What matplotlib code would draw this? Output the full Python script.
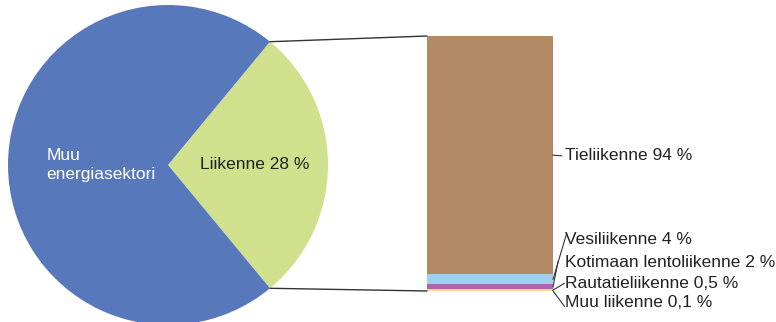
import matplotlib.pyplot as plt
from matplotlib.patches import ConnectionPatch
import numpy as np

plt.rcParams['font.family'] = ['DejaVu Sans Condensed', 'Liberation Sans Narrow', 'Liberation Sans']

# Pie data
pie_labels = ['Liikenne 28 %', 'Muu\nenergiasektori']
pie_values = [28, 72]
pie_colors = ['#D1E08C', '#5878BC']

# Breakdown of transport (bottom to top)
bar_labels = ['Muu liikenne 0,1 %', 'Rautatieliikenne 0,5 %', 'Kotimaan lentoliikenne 2 %',
              'Vesiliikenne 4 %', 'Tieliikenne 94 %']
bar_values = [0.1, 0.5, 2, 4, 94]
bar_colors = ['#E05050', '#F3D58A', '#B065AA', '#9DD0EC', '#B28A66']

fig = plt.figure(figsize=(7.76, 3.22), dpi=100)

# pie axes (center 168,165 px, radius 160)
r_px = 160
ax_pie = fig.add_axes([(168 - r_px) / 776, (157 - r_px) / 322, 2 * r_px / 776, 2 * r_px / 322])
half = pie_values[0] / 100 * 180
wedges, _ = ax_pie.pie(pie_values, colors=pie_colors, startangle=-half, radius=1,
                       wedgeprops=dict(linewidth=0))
ax_pie.set_xlim(-1, 1)
ax_pie.set_ylim(-1, 1)
ax_pie.set_aspect('equal')
ax_pie.axis('off')
ax_pie.text(0.2, 0.0, pie_labels[0], fontsize=12.5, color='#222222', ha='left', va='center')
ax_pie.text(-0.76, 0.0, pie_labels[1], fontsize=12.5, color='white', ha='left', va='center',
            linespacing=1.35)

# bar axes
ax_bar = fig.add_axes([427 / 776, (322 - 291) / 322, 126 / 776, 255 / 322])
total = sum(bar_values)
bottom = 0
centers = []
for v, c in zip(bar_values, bar_colors):
    ax_bar.bar(0, v, width=1, bottom=bottom, color=c, linewidth=0)
    centers.append(bottom + v / 2)
    bottom += v
ax_bar.set_xlim(-0.5, 0.5)
ax_bar.set_ylim(0, total)
ax_bar.axis('off')

# label positions (axes fraction)
label_y = [-0.047, 0.031, 0.11, 0.20, 0.53]
line_end = [(1.09, -0.06), (1.09, 0.03), (1.04, 0.115), (1.105, 0.22), (1.07, 0.53)]
for lab, cy, ly, (ex, ey) in zip(bar_labels, centers, label_y, line_end):
    start = ax_bar.transAxes.inverted().transform(ax_bar.transData.transform((0.5, cy)))
    ax_bar.plot([start[0], ex], [start[1], ey], color='#333333', lw=0.8,
                transform=ax_bar.transAxes, clip_on=False)
    ax_bar.text(1.095, ly, lab, fontsize=12.5, color='#222222', ha='left', va='center',
                transform=ax_bar.transAxes, clip_on=False)

# connection lines from pie to bar
theta = np.deg2rad(half)
for sgn, yb in [(1, total), (-1, 0)]:
    con = ConnectionPatch(xyA=(np.cos(theta), sgn * np.sin(theta)), coordsA=ax_pie.transData,
                          xyB=(-0.5, yb), coordsB=ax_bar.transData,
                          color='#333333', lw=1)
    fig.add_artist(con)

fig.savefig('out.png', dpi=100)
